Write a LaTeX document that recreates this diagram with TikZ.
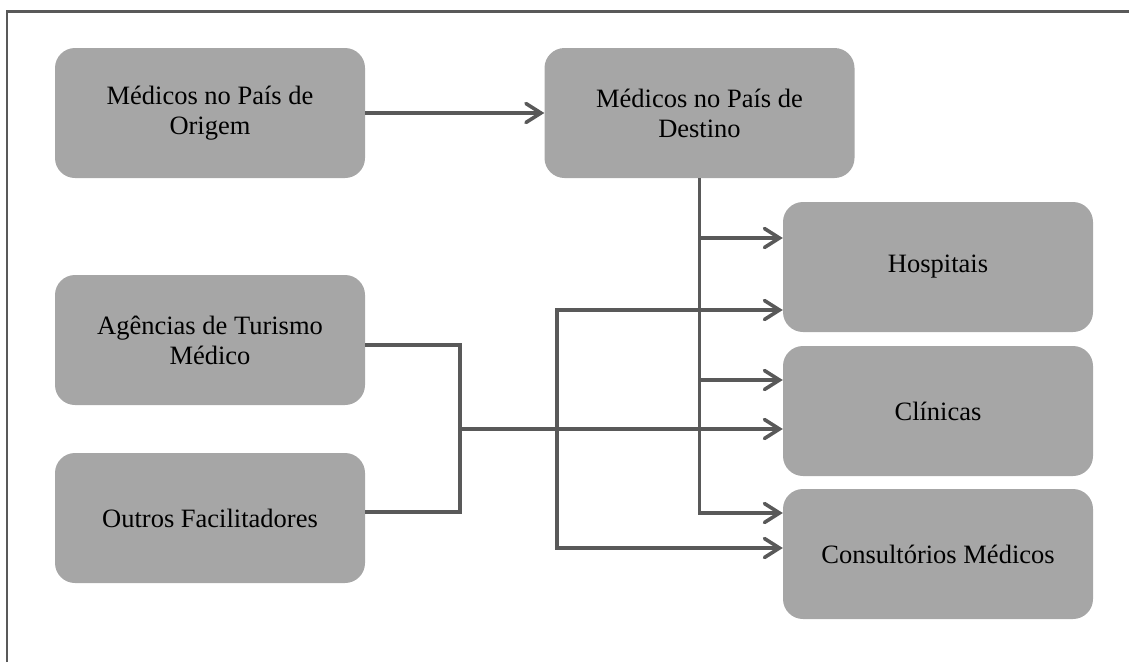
\documentclass[tikz,border=0pt]{standalone}
\usepackage{fontspec}
\setmainfont{Liberation Serif}
\usetikzlibrary{arrows.meta}
\definecolor{boxgray}{HTML}{A6A6A6}
\definecolor{linegray}{HTML}{595959}
\begin{document}
\begin{tikzpicture}[x=1pt, y=-1pt,
    box/.style={rectangle, fill=boxgray, rounded corners=20pt,
      minimum width=310pt, minimum height=130pt, align=center,
      inner sep=0pt, font=\fontsize{26.5}{30}\selectfont},
    link/.style={draw=linegray, line width=3.6pt},
    conn/.style={link, -{Straight Barb[length=15pt, width=19pt,
          line cap=round]}}]
    \useasboundingbox (0,0) rectangle (1129,662);
    \draw[linegray, line width=2.5pt] (7,662) -- (7,11.5) -- (1129,11.5);
    \begin{scope}[every node/.style={box}]
      \node (orig) at (210,113) {Médicos no País de\\Origem};
      \node (dest) at (699.5,113) {Médicos no País de\\Destino};
      \node (agen) at (210,340) {Agências de Turismo\\Médico};
      \node (outr) at (210,518) {Outros Facilitadores};
      \node (hosp) at (938,267) {Hospitais}; \node (clin) at (938,411)
      {Clínicas}; \node (cons) at (938,554) {Consultórios Médicos};
    \end{scope}
    \coordinate (jn) at (460,429); \coordinate (fork) at (557,429);
    \draw[conn] (orig) -- (dest);
    % trunk below the destination doctors
    \draw[conn] (dest.south) |- ([yshift=29pt]hosp.west);
    \draw[conn] (dest.south) |- ([yshift=31pt]clin.west);
    \draw[conn] (dest.south) |- ([yshift=41pt]cons.west);
    % facilitators
    \draw[link] ([yshift=-5pt]agen.east) -| (jn); \draw[link]
    ([yshift=6pt]outr.east) -| (jn);
    \draw[conn] (jn) -- (jn -| clin.west);
    \draw[conn] (fork) |- ([yshift=-43pt]hosp.west);
    \draw[conn] (fork) |- ([yshift=6pt]cons.west);
  \end{tikzpicture}
\end{document}
